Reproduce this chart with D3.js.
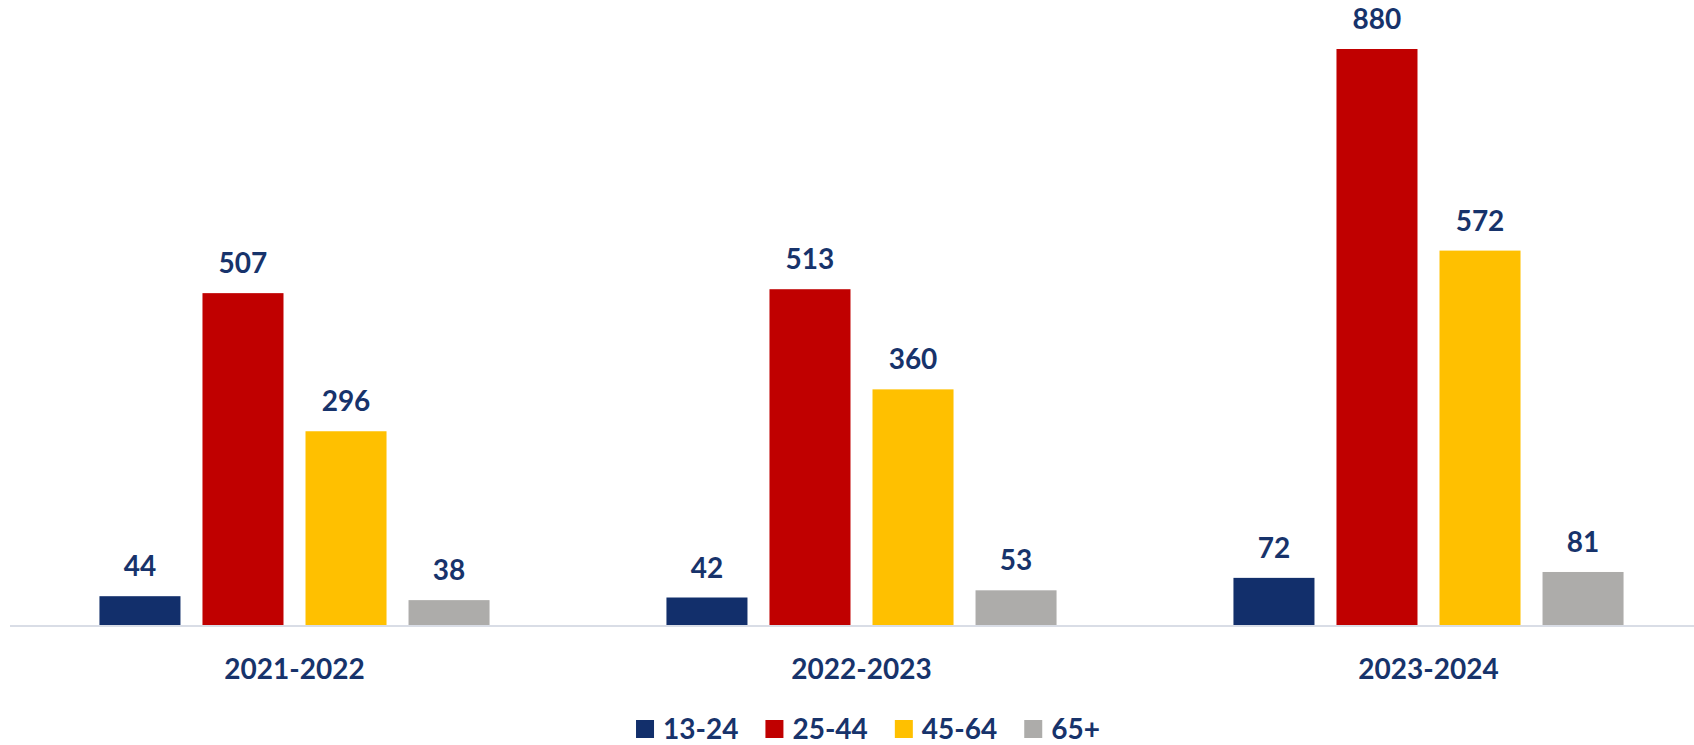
<!DOCTYPE html>
<html>
<head>
<meta charset="utf-8">
<script src="https://cdn.jsdelivr.net/npm/d3@7"></script>
<style>
  html, body { margin: 0; padding: 0; background: #fff; overflow: hidden; }
  svg text { font-family: Lato, "Open Sans", sans-serif; font-weight: 700; fill: #17336b; }
</style>
</head>
<body>
<div id="chart"></div>
<script>
// Data
const years = ['2021-2022', '2022-2023', '2023-2024'];
const ageGroups = ['13-24', '25-44', '45-64', '65+'];
const age13to24 = [44, 42, 72];
const age25to44 = [507, 513, 880];
const age45to64 = [296, 360, 572];
const age65plus = [38, 53, 81];
const colors = ['#122f6b', '#c00000', '#ffc000', '#adacaa'];

const w = 1694;
const h = 745;
const margin = {top: 49, left: 11, right: -18, bottom: 120};

const series = [age13to24, age25to44, age45to64, age65plus];
const dataset = years.map((y, i) => ({
  year: y,
  values: ageGroups.map((g, j) => ({group: g, value: series[j][i]}))
}));

const svg = d3.select('#chart')
  .append('svg')
  .attr('width', w)
  .attr('height', h);

// Scales
const x0 = d3.scaleBand()
  .domain(years)
  .range([margin.left, w - margin.right])
  .paddingInner(0.312)
  .paddingOuter(0.156);

const x1 = d3.scaleBand()
  .domain(ageGroups)
  .range([0, x0.bandwidth()])
  .paddingInner(0.2136);

const y = d3.scaleLinear()
  .domain([0, 880])
  .range([h - margin.bottom, margin.top]);

const color = d3.scaleOrdinal().domain(ageGroups).range(colors);

// Bars
const groups = svg.selectAll('g.year')
  .data(dataset)
  .join('g')
  .attr('class', 'year')
  .attr('transform', d => `translate(${x0(d.year)},0)`);

groups.selectAll('rect')
  .data(d => d.values)
  .join('rect')
  .attr('x', d => x1(d.group))
  .attr('y', d => y(d.value))
  .attr('width', x1.bandwidth())
  .attr('height', d => y(0) - y(d.value))
  .attr('fill', d => color(d.group));

// Value labels
groups.selectAll('text.value')
  .data(d => d.values)
  .join('text')
  .attr('class', 'value')
  .attr('x', d => x1(d.group) + x1.bandwidth() / 2)
  .attr('y', d => y(d.value) - 20)
  .attr('text-anchor', 'middle')
  .attr('font-size', 28)
  .text(d => d.value);

// x axis
const xAxis = d3.axisBottom(x0)
  .tickSize(0)
  .tickPadding(33);

const gx = svg.append('g')
  .attr('transform', `translate(0, ${y(0) + 1})`)
  .call(xAxis);

gx.select('.domain')
  .attr('stroke', '#d9dde6')
  .attr('stroke-width', 2)
  .attr('d', `M${margin.left - 1},0H${w - margin.right}`);

gx.selectAll('.tick text')
  .attr('font-size', 28)
  .attr('font-family', null)
  .attr('fill', null);

// Legend
const legend = svg.append('g');
let lx = 0;
ageGroups.forEach((g, i) => {
  const item = legend.append('g').attr('transform', `translate(${lx},0)`);
  item.append('rect')
    .attr('x', 0).attr('y', -19)
    .attr('width', 18).attr('height', 18)
    .attr('fill', color(g));
  const t = item.append('text')
    .attr('x', 27).attr('y', 0)
    .attr('font-size', 28)
    .text(g);
  lx += 27 + t.node().getComputedTextLength() + 27;
});
const legendWidth = lx - 27;
legend.attr('transform', `translate(${868 - legendWidth / 2}, 739)`);
</script>
</body>
</html>
